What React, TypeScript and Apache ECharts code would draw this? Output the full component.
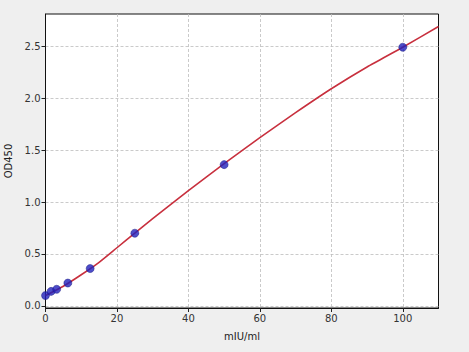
import React, { useEffect, useRef } from "react";
import * as echarts from "echarts";

const standardConc = [0, 1.56, 3.125, 6.25, 12.5, 25, 50, 100];
const standardOD = [0.1, 0.14, 0.16, 0.22, 0.36, 0.7, 1.36, 2.49];

const curveConc = [0, 5, 10, 15, 20, 25, 30, 40, 50, 60, 70, 80, 90, 100, 110];
const curveOD = [0.1, 0.19, 0.3, 0.42, 0.56, 0.7, 0.84, 1.11, 1.37, 1.62, 1.86, 2.09, 2.3, 2.49, 2.69];

const xTicks = [0, 20, 40, 60, 80, 100];
const yTicks = [0, 0.5, 1.0, 1.5, 2.0, 2.5];

export default function App() {
  const ref = useRef<HTMLDivElement>(null);
  useEffect(() => {
    if (!ref.current) return;
    const chart = echarts.init(ref.current, null, { renderer: "svg" });
    const font = "DejaVu Sans";
    chart.setOption({
      animation: false,
      backgroundColor: "#efefef",
      grid: {
        left: 45.5,
        top: 14,
        right: 30.5,
        bottom: 44,
        containLabel: false,
        outerBoundsMode: "none",
        show: true,
        backgroundColor: "#ffffff",
        borderColor: "#111111",
        borderWidth: 1,
      },
      xAxis: {
        type: "value",
        min: 0,
        max: 110,
        interval: 20,
        name: "mIU/ml",
        nameLocation: "middle",
        nameGap: 23,
        nameTextStyle: { fontFamily: font, fontSize: 10, color: "#222" },
        axisLine: { show: true, onZero: false, lineStyle: { color: "#111", width: 1 } },
        axisTick: { show: true, inside: false, length: 4, lineStyle: { color: "#222" }, customValues: xTicks },
        axisLabel: {
          fontFamily: font,
          fontSize: 10,
          color: "#333",
          margin: 5,
          customValues: xTicks,
          formatter: (v: number) => String(v),
        },
        splitLine: { show: true, lineStyle: { color: "#bdbdbd", type: [3, 2], width: 0.8 } },
      },
      yAxis: {
        type: "value",
        min: -0.02,
        max: 2.81,
        name: "OD450",
        nameLocation: "middle",
        nameGap: 32,
        nameRotate: 90,
        nameTextStyle: { fontFamily: font, fontSize: 10, color: "#222" },
        axisLine: { show: true, onZero: false, lineStyle: { color: "#111", width: 1 } },
        axisTick: { show: true, inside: false, length: 4, lineStyle: { color: "#222" }, customValues: yTicks },
        axisLabel: {
          fontFamily: font,
          fontSize: 10,
          color: "#333",
          margin: 5,
          customValues: yTicks,
          formatter: (v: number) => v.toFixed(1),
        },
        splitLine: { show: true, lineStyle: { color: "#bdbdbd", type: [3, 2], width: 0.8 } },
      },
      series: [
        {
          type: "line",
          data: curveConc.map((x, i) => [x, curveOD[i]]),
          smooth: 0.2,
          showSymbol: false,
          lineStyle: { color: "#c8303e", width: 1.6 },
          z: 3,
        },
        {
          type: "scatter",
          data: standardConc.map((x, i) => [x, standardOD[i]]),
          symbolSize: 8,
          itemStyle: { color: "#2020bc", borderColor: "#1a1a80", borderWidth: 0.6 },
          z: 4,
        },
      ],
    });
    return () => chart.dispose();
  }, []);
  return (
    <div
      ref={ref}
      style={{ position: "absolute", left: 0, top: 0, width: 469, height: 352 }}
    />
  );
}
